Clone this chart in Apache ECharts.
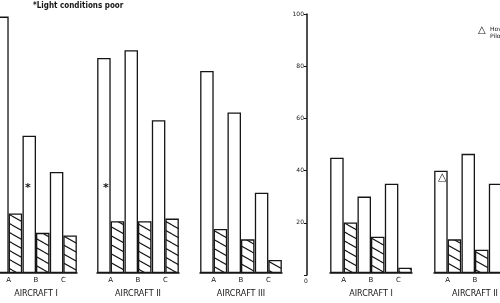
<!DOCTYPE html>
<html>
<head>
    <meta charset="UTF-8">
    <title>Aircraft A/B/C</title>
    <script src="https://cdn.jsdelivr.net/npm/echarts@6/dist/echarts.min.js"></script>
    <style>
        * {
            margin: 0;
            padding: 0;
        }

        body {
            background: #fff;
            overflow: hidden;
        }

        /* the sheet is cut on both sides, so draw it wider and shift it */
        #chart {
            position: absolute;
            left: -20px;
            top: 0;
            width: 540px;
            height: 303px;
        }
    </style>
</head>
<body>
    <div id="chart"></div>

    <script>
        // data (scale 0-100)
        const categories = ['A', 'B', 'C'];
        const groupTitles = ['AIRCRAFT I', 'AIRCRAFT II', 'AIRCRAFT III', 'AIRCRAFT I', 'AIRCRAFT II'];

        const openLeft1 = [99, 53, 39];
        const hatchLeft1 = [23, 15.5, 14.5];
        const openLeft2 = [83, 86, 59];
        const hatchLeft2 = [20, 20, 21];
        const openLeft3 = [78, 62, 31];
        const hatchLeft3 = [17, 13, 5];
        const openRight1 = [44.5, 29.5, 34.5];
        const hatchRight1 = [19.5, 14, 2];
        const openRight2 = [39.5, 46, 34.5];
        const hatchRight2 = [13, 9, null];

        const yMin = 0;
        const yMax = 100;
        const yStep = 20;

        const openBars = [openLeft1, openLeft2, openLeft3, openRight1, openRight2];
        const hatchBars = [hatchLeft1, hatchLeft2, hatchLeft3, hatchRight1, hatchRight2];

        // canvas is shifted 20px left of the window
        const shift = 20;
        const groupLeft = [-5, 97, 200, 330, 434];
        const groupWidth = 82;
        const axisLeft = 307;
        const ink = '#151515';
        const font = 'DejaVu Sans';

        // diagonal hatching "\\\"
        function makeHatch() {
            const c = document.createElement('canvas');
            c.width = 16;
            c.height = 9;
            const ctx = c.getContext('2d');
            ctx.fillStyle = '#fff';
            ctx.fillRect(0, 0, 16, 9);
            ctx.strokeStyle = ink;
            ctx.lineWidth = 1.1;
            ctx.beginPath();
            [-9, 0, 9].forEach(function (dy) {
                ctx.moveTo(0, dy);
                ctx.lineTo(16, dy + 9);
            });
            ctx.stroke();
            return c;
        }
        const hatch = { image: makeHatch(), repeat: 'repeat' };

        const grids = [];
        const xAxes = [];
        const yAxes = [];
        const series = [];

        groupTitles.forEach(function (title, i) {
            grids.push({ left: groupLeft[i] + shift, width: groupWidth, top: 14, bottom: 28 });
            xAxes.push({
                type: 'category',
                gridIndex: i,
                data: categories,
                axisLine: { lineStyle: { color: ink, width: 1.5 } },
                axisTick: { show: false },
                axisLabel: { color: ink, fontSize: 7, margin: 4, fontFamily: font },
                name: title,
                nameLocation: 'middle',
                nameGap: 17,
                nameTextStyle: { color: ink, fontSize: 8, fontFamily: font }
            });
            yAxes.push({ type: 'value', gridIndex: i, min: yMin, max: yMax, show: false });
            series.push({
                type: 'bar',
                xAxisIndex: i,
                yAxisIndex: i,
                data: openBars[i],
                barWidth: 13.5,
                barGap: '0%',
                itemStyle: { color: '#fff', borderColor: ink, borderWidth: 1.3 },
                silent: true
            });
            series.push({
                type: 'bar',
                xAxisIndex: i,
                yAxisIndex: i,
                data: hatchBars[i],
                barWidth: 13.5,
                barGap: '0%',
                itemStyle: { color: hatch, borderColor: ink, borderWidth: 1.3 },
                silent: true
            });
        });

        // the only visible value axis (right panel)
        grids.push({ left: axisLeft + shift, width: 1, top: 14, bottom: 28 });
        xAxes.push({ type: 'value', gridIndex: 5, show: false });
        yAxes.push({
            type: 'value',
            gridIndex: 5,
            min: yMin,
            max: yMax,
            interval: yStep,
            axisLine: { show: true, lineStyle: { color: ink, width: 1.5 } },
            axisTick: { show: true, length: 3, lineStyle: { color: ink } },
            axisLabel: {
                color: ink,
                fontSize: 6,
                margin: 3,
                fontFamily: font,
                formatter: function (v) { return v === 0 ? '' : v; }
            },
            splitLine: { show: false }
        });

        function note(x, y, text, size, bold) {
            return {
                type: 'text',
                left: x + shift,
                top: y,
                z: 100,
                style: { text: text, fill: ink, fontSize: size, fontWeight: bold ? 'bold' : 'normal', fontFamily: font, lineHeight: 7 }
            };
        }

        const chart = echarts.init(document.getElementById('chart'));
        chart.setOption({
            animation: false,
            backgroundColor: '#fff',
            grid: grids,
            xAxis: xAxes,
            yAxis: yAxes,
            series: series,
            graphic: [
                {
                    type: 'text', left: 33 + shift, top: 2, z: 100,
                    style: { text: '*Light conditions poor', fill: ink, fontSize: 8, fontWeight: 'bold', fontFamily: 'DejaVu Sans Condensed' }
                },
                note(304, 278, '0', 6, false),
                note(25, 183, '*', 11, true),
                note(103, 183, '*', 11, true),
                note(438, 172, '△', 11, true),
                note(478, 25, '△', 10, true),
                note(490, 26, 'Hover\nPilot', 6, false)
            ]
        });
    </script>
</body>
</html>
